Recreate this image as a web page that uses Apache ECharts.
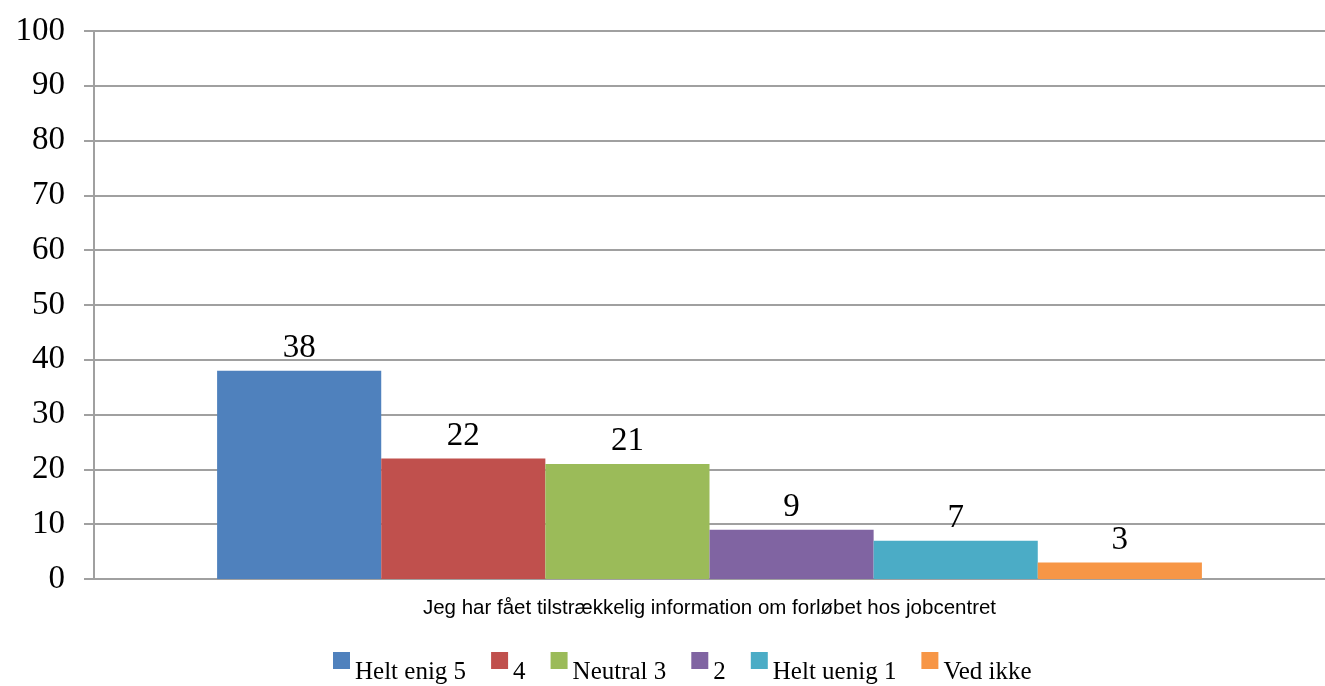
<!DOCTYPE html>
<html><head><meta charset="utf-8">
<script src="https://cdn.jsdelivr.net/npm/echarts@6/dist/echarts.min.js"></script>
<style>html,body{margin:0;padding:0;background:#fff}#c{width:1325px;height:686px}</style>
</head><body><div id="c"></div>
<script>
const categories = ['Jeg har fået tilstrækkelig information om forløbet hos jobcentret'];
const seriesNames = ['Helt enig 5', '4', 'Neutral 3', '2', 'Helt uenig 1', 'Ved ikke'];
const seriesValues = [[38], [22], [21], [9], [7], [3]];
const colors = ['#4F81BD', '#C0504D', '#9BBB59', '#8064A2', '#4BACC6', '#F79646'];

const chart = echarts.init(document.getElementById('c'));
chart.setOption({
  animation: false,
  color: colors,
  grid: { left: 94, right: 0, top: 31, bottom: 107 },
  legend: {
    top: 652, left: 333, itemWidth: 17, itemHeight: 17, itemGap: 25,
    icon: 'rect', padding: 0,
    formatter: '{a|{name}}',
    textStyle: {
      fontFamily: 'Liberation Serif', fontSize: 25, color: '#000',
      rich: { a: { fontFamily: 'Liberation Serif', fontSize: 25, color: '#000', padding: [24, 0, 0, 0] } }
    },
    data: seriesNames
  },
  xAxis: {
    type: 'category', data: categories,
    axisLine: { lineStyle: { color: '#a0a0a0', width: 2 } },
    axisTick: { show: false },
    axisLabel: { fontFamily: 'Liberation Sans', fontSize: 20.5, color: '#000', margin: 19 }
  },
  yAxis: {
    type: 'value', min: 0, max: 100, interval: 10,
    axisLine: { show: true, lineStyle: { color: '#a0a0a0', width: 2 } },
    axisTick: { show: true, length: 10, lineStyle: { color: '#a0a0a0', width: 2 } },
    splitLine: { lineStyle: { color: '#a0a0a0', width: 2 } },
    axisLabel: { fontFamily: 'Liberation Serif', fontSize: 33, color: '#000', margin: 29 }
  },
  series: seriesNames.map((n, i) => ({
    name: n, type: 'bar', data: seriesValues[i],
    barGap: '0%', barCategoryGap: '20%',
    label: { show: true, position: 'top', fontFamily: 'Liberation Serif', fontSize: 33, color: '#000', distance: 6 }
  }))
});
</script></body></html>
